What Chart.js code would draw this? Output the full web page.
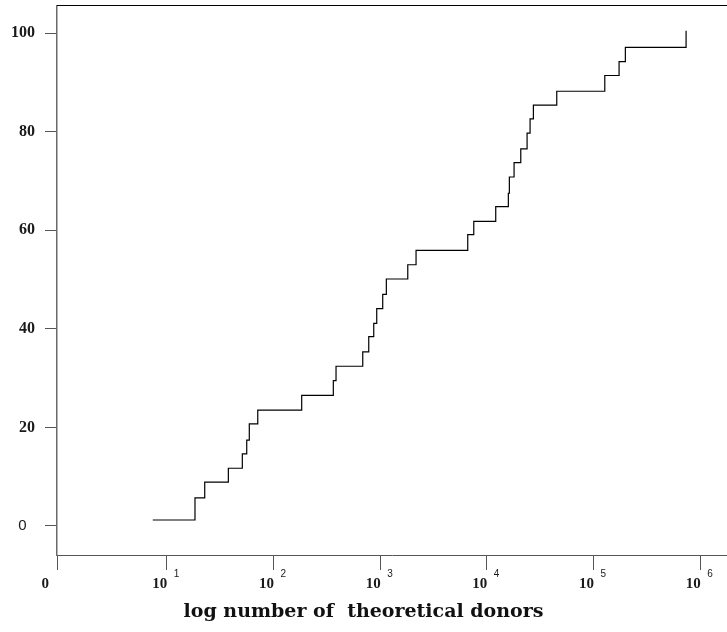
<!DOCTYPE html>
<html>
<head>
<meta charset="utf-8">
<script src="https://cdn.jsdelivr.net/npm/chart.js@4.4.1/dist/chart.umd.min.js"></script>
<style>
  html, body { margin: 0; padding: 0; background: #fff; }
  #wrap { width: 727px; height: 632px; position: relative; }
</style>
</head>
<body>
<div id="wrap"><canvas id="donor-chart"></canvas></div>
<script>
// number of theoretical donors (x) vs cumulative percent (y)
const donorCounts = [7.4, 18.4, 22.7, 37.8, 51.1, 56.2, 59.4, 71.3, 184, 364, 386, 687, 782, 871, 929,
    1057, 1143, 1815, 2170, 6620, 7540, 12110, 15900, 16250, 17990, 20790, 23820, 25410, 27290,
    45190, 127400, 173400, 198600, 736200];
const cumPercent = [1.2, 5.7, 8.9, 11.7, 14.6, 17.4, 20.7, 23.5, 26.5, 29.5, 32.4, 35.3, 38.4, 41.1, 44.1,
    47.0, 50.1, 53.0, 55.9, 59.1, 61.8, 64.8, 67.5, 70.8, 73.7, 76.5, 79.7, 82.6, 85.4,
    88.2, 91.4, 94.2, 97.1, 100.5];

// axis ticks
const xMin = 0.937;
const xMax = 1.78e6;
const xTicks = [xMin, 1e1, 1e2, 1e3, 1e4, 1e5, 1e6];
const xTickBase = ['0', '10', '10', '10', '10', '10', '10'];
const xTickExp = ['', '1', '2', '3', '4', '5', '6'];
const yTicks = [0, 20, 40, 60, 80, 100];

const points = donorCounts.map((d, i) => ({ x: d, y: cumPercent[i] }));

// draws the "10 ^n" labels under the x axis + the top frame line
const axisExtras = {
    id: 'axisExtras',
    afterDraw(chart) {
        const ctx = chart.ctx;
        const xs = chart.scales.x;
        const area = chart.chartArea;

        ctx.save();
        ctx.strokeStyle = '#000';
        ctx.lineWidth = 1;
        ctx.beginPath();
        ctx.moveTo(area.left, area.top - 0.5);
        ctx.lineTo(area.right, area.top - 0.5);
        ctx.stroke();

        ctx.fillStyle = '#1a1a1a';
        ctx.textBaseline = 'alphabetic';
        xTicks.forEach((v, i) => {
            const px = xs.getPixelForValue(v);
            ctx.font = 'bold 15px "Liberation Serif"';
            if (xTickExp[i] === '') {
                ctx.textAlign = 'right';
                ctx.fillText(xTickBase[i], px - 8, 588);
                return;
            }
            ctx.textAlign = 'right';
            ctx.fillText(xTickBase[i], px + 0.5, 588);
            ctx.font = '10px "Liberation Sans"';
            ctx.textAlign = 'left';
            ctx.fillText(xTickExp[i], px + 7, 577);
        });
        ctx.restore();
    }
};

new Chart(document.getElementById('donor-chart'), {
    type: 'line',
    data: {
        datasets: [{
            data: points,
            borderColor: '#000',
            borderWidth: 1.2,
            pointRadius: 0,
            stepped: true,
            fill: false
        }]
    },
    options: {
        responsive: true,
        maintainAspectRatio: false,
        animation: false,
        layout: { padding: { top: 6, right: 0, bottom: 0, left: 0 } },
        plugins: {
            legend: { display: false },
            tooltip: { enabled: false },
            title: {
                display: true,
                position: 'bottom',
                text: 'log number of  theoretical donors',
                color: '#111',
                font: { family: '"DejaVu Serif"', size: 19, weight: 'bold', lineHeight: 1.2 },
                padding: { top: 31, bottom: 8.2 }
            }
        },
        scales: {
            x: {
                type: 'logarithmic',
                min: xMin,
                max: xMax,
                afterBuildTicks: s => { s.ticks = xTicks.map(v => ({ value: v })); },
                ticks: { display: false },
                grid: { drawOnChartArea: false, drawTicks: true, tickLength: 15, color: '#555', lineWidth: 1 },
                border: { display: true, color: '#555', width: 1 }
            },
            y: {
                min: -5.9,
                max: 105.5,
                afterBuildTicks: s => { s.ticks = yTicks.map(v => ({ value: v })); },
                afterFit: s => { s.width = 57; s.paddingTop = 0; s.paddingBottom = 0; },
                ticks: {
                    padding: 10,
                    color: '#1a1a1a',
                    // the zero label sits further left in the original
                    callback: v => (v === 0 ? '0  ' : String(v)),
                    font: c => (c.tick && c.tick.value === 0)
                        ? { family: '"Liberation Sans"', size: 15, weight: 'normal' }
                        : { family: '"Liberation Serif"', size: 16, weight: 'bold' }
                },
                grid: { drawOnChartArea: false, drawTicks: true, tickLength: 12, color: '#555', lineWidth: 1 },
                border: { display: true, color: '#6a6a6a', width: 1.5 }
            }
        }
    },
    plugins: [axisExtras]
});
</script>
</body>
</html>
